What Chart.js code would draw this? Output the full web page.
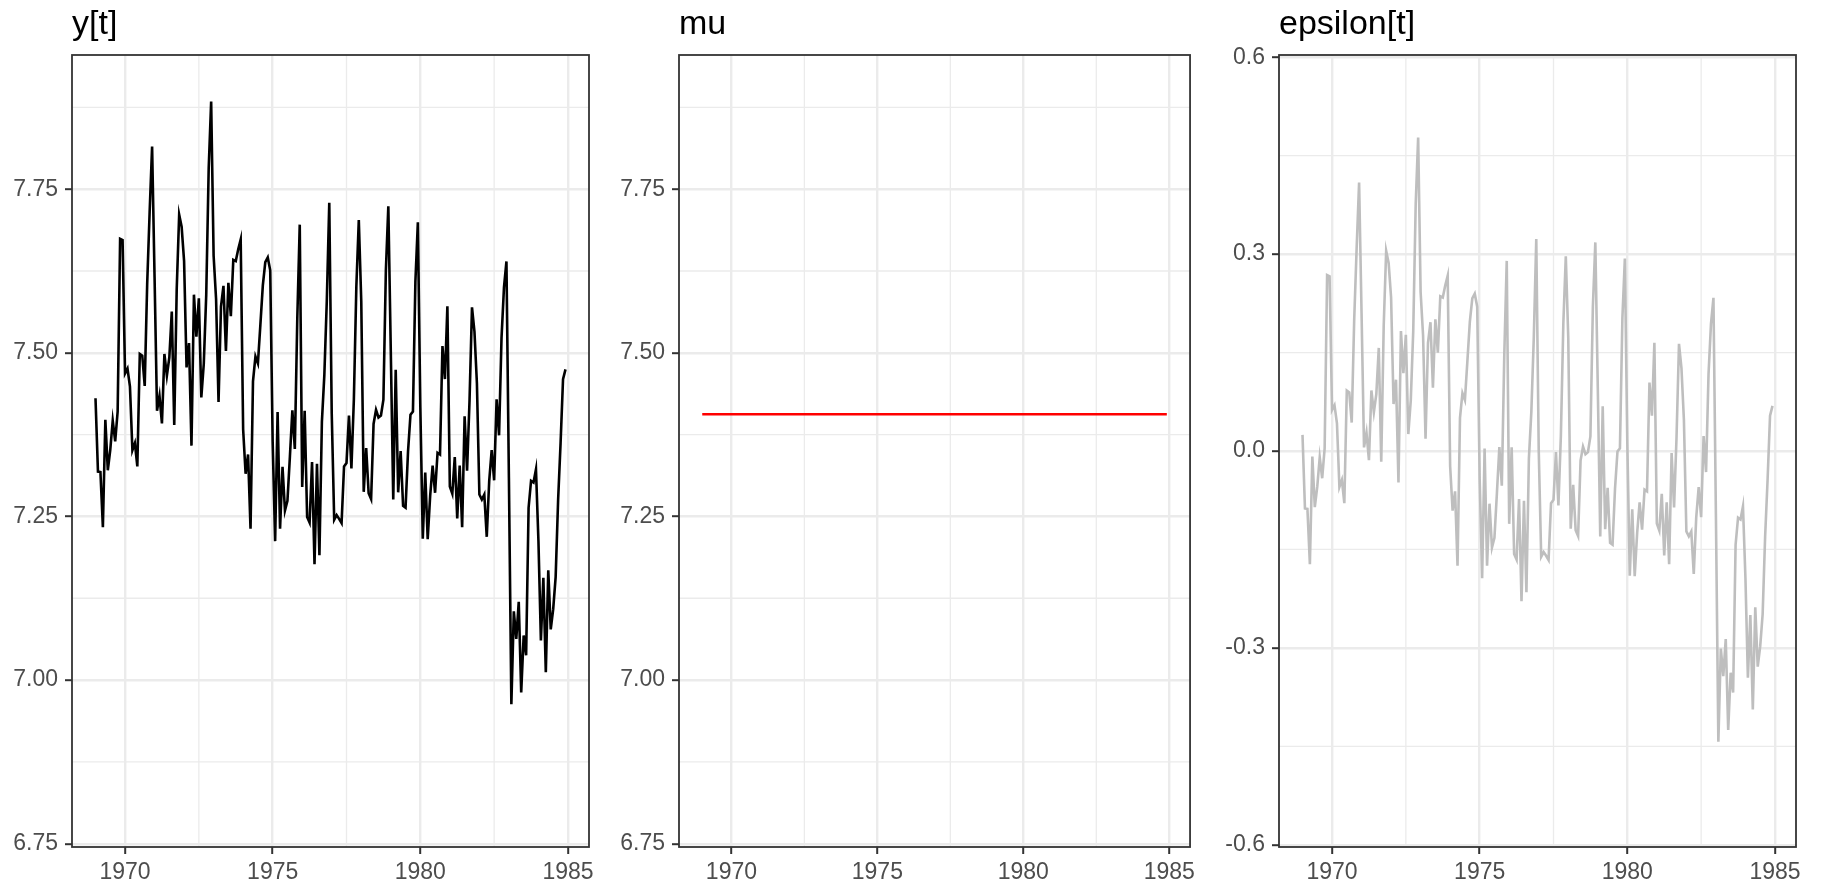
<!DOCTYPE html>
<html>
<head>
<meta charset="utf-8">
<title>y[t], mu, epsilon[t]</title>
<script src="https://cdn.jsdelivr.net/npm/chart.js@4.4.1/dist/chart.umd.min.js"></script>
<style>
  html, body { margin: 0; padding: 0; background: #ffffff; }
  #wrap { position: relative; width: 1821px; height: 887px; overflow: hidden; }
  canvas { position: absolute; top: 0; }
</style>
</head>
<body>
<div id="wrap">
  <canvas id="c1" style="left:0px"></canvas>
  <canvas id="c2" style="left:600px"></canvas>
  <canvas id="c3" style="left:1200px"></canvas>
</div>
<script>
// Monthly series, January 1969 to December 1984 (log scale)
const startYear = 1969;
const monthsPerYear = 12;

const yt = [
  7.4307, 7.3185, 7.3179, 7.2335, 7.3976, 7.3205, 7.3518, 7.3963, 7.3646, 7.4103, 7.6742, 7.6723,
  7.4685, 7.4759, 7.4483, 7.3512, 7.3620, 7.3265, 7.4983, 7.4955, 7.4495, 7.6049, 7.7151, 7.8152,
  7.6158, 7.4116, 7.4343, 7.3920, 7.4983, 7.4651, 7.4928, 7.5632, 7.3896, 7.5969, 7.7111, 7.6926,
  7.6401, 7.4776, 7.5148, 7.3582, 7.5888, 7.5246, 7.5833, 7.4319, 7.4832, 7.5888, 7.7820, 7.8838,
  7.6483, 7.5822, 7.4248, 7.5710, 7.6024, 7.5027, 7.6069, 7.5559, 7.6420, 7.6401, 7.6582, 7.6732,
  7.3828, 7.3152, 7.3447, 7.2313, 7.4565, 7.4944, 7.4838, 7.5428, 7.6029, 7.6387, 7.6459, 7.6261,
  7.3633, 7.2123, 7.4097, 7.2313, 7.3258, 7.2591, 7.2738, 7.3415, 7.4122, 7.3531, 7.5522, 7.6958,
  7.2951, 7.4116, 7.2492, 7.2407, 7.3330, 7.1770, 7.3304, 7.1907, 7.3945, 7.4662, 7.5797, 7.7293,
  7.4073, 7.2449, 7.2521, 7.2464, 7.2399, 7.3265, 7.3317, 7.4043, 7.3232, 7.4295, 7.6009, 7.7030,
  7.5787, 7.2876, 7.3544, 7.2855, 7.2766, 7.3914, 7.4128, 7.4012, 7.4043, 7.4283, 7.6256, 7.7240,
  7.5027, 7.2759, 7.4742, 7.2869, 7.3499, 7.2661, 7.2633, 7.3486, 7.4055, 7.4103, 7.6089, 7.6994,
  7.4176, 7.2160, 7.3172, 7.2152, 7.2814, 7.3278, 7.2862, 7.3473, 7.3447, 7.5104, 7.4599, 7.5710,
  7.2957, 7.2848, 7.3408, 7.2471, 7.3278, 7.2335, 7.4031, 7.3199, 7.4271, 7.5694, 7.5326, 7.4536,
  7.2835, 7.2759, 7.2835, 7.2189, 7.3045, 7.3512, 7.3052, 7.4289, 7.3740, 7.5229, 7.5999, 7.6396,
  7.3092, 6.9632, 7.1050, 7.0631, 7.1196, 6.9810, 7.0682, 7.0379, 7.2633, 7.3045, 7.3018, 7.3219,
  7.2130, 7.0605, 7.1562, 7.0121, 7.1678, 7.0775, 7.1083, 7.1577, 7.2752, 7.3620, 7.4599, 7.4748
];

// Deterministic level
const muLevel = 7.4061;

const epsilon = [
   0.0246, -0.0876, -0.0882, -0.1726, -0.0085, -0.0856, -0.0543, -0.0098, -0.0415,  0.0042,  0.2681,  0.2662,
   0.0624,  0.0698,  0.0422, -0.0549, -0.0441, -0.0796,  0.0922,  0.0894,  0.0434,  0.1988,  0.3090,  0.4091,
   0.2097,  0.0055,  0.0282, -0.0141,  0.0922,  0.0590,  0.0867,  0.1571, -0.0165,  0.1908,  0.3050,  0.2865,
   0.2340,  0.0715,  0.1087, -0.0479,  0.1827,  0.1185,  0.1772,  0.0258,  0.0771,  0.1827,  0.3759,  0.4777,
   0.2422,  0.1761,  0.0187,  0.1649,  0.1963,  0.0966,  0.2008,  0.1498,  0.2359,  0.2340,  0.2521,  0.2671,
  -0.0233, -0.0909, -0.0614, -0.1748,  0.0504,  0.0883,  0.0777,  0.1367,  0.1968,  0.2326,  0.2398,  0.2200,
  -0.0428, -0.1938,  0.0036, -0.1748, -0.0803, -0.1470, -0.1323, -0.0646,  0.0061, -0.0530,  0.1461,  0.2897,
  -0.1110,  0.0055, -0.1569, -0.1654, -0.0731, -0.2291, -0.0757, -0.2154, -0.0116,  0.0601,  0.1736,  0.3232,
   0.0012, -0.1612, -0.1540, -0.1597, -0.1662, -0.0796, -0.0744, -0.0018, -0.0829,  0.0234,  0.1948,  0.2969,
   0.1726, -0.1185, -0.0517, -0.1206, -0.1295, -0.0147,  0.0067, -0.0049, -0.0018,  0.0222,  0.2195,  0.3179,
   0.0966, -0.1302,  0.0681, -0.1192, -0.0562, -0.1400, -0.1428, -0.0575, -0.0006,  0.0042,  0.2028,  0.2933,
   0.0115, -0.1901, -0.0889, -0.1909, -0.1247, -0.0783, -0.1199, -0.0588, -0.0614,  0.1043,  0.0538,  0.1649,
  -0.1104, -0.1213, -0.0653, -0.1590, -0.0783, -0.1726, -0.0030, -0.0862,  0.0210,  0.1633,  0.1265,  0.0475,
  -0.1226, -0.1302, -0.1226, -0.1872, -0.1016, -0.0549, -0.1009,  0.0228, -0.0321,  0.1168,  0.1938,  0.2335,
  -0.0969, -0.4429, -0.3011, -0.3430, -0.2865, -0.4251, -0.3379, -0.3682, -0.1428, -0.1016, -0.1043, -0.0842,
  -0.1931, -0.3456, -0.2499, -0.3940, -0.2383, -0.3286, -0.2978, -0.2484, -0.1309, -0.0441,  0.0538,  0.0687
];

// Axis breaks and labels
const xTicks = [1970, 1975, 1980, 1985];
const xTickLabels = ['1970', '1975', '1980', '1985'];
const xMinor = [1972.5, 1977.5, 1982.5];

const levelTicks = [6.75, 7.00, 7.25, 7.50, 7.75];
const levelTickLabels = ['6.75', '7.00', '7.25', '7.50', '7.75'];
const levelMinor = [6.875, 7.125, 7.375, 7.625, 7.875];

const epsTicks = [-0.6, -0.3, 0, 0.3, 0.6];
const epsTickLabels = ['-0.6', '-0.3', '0.0', '0.3', '0.6'];
const epsMinor = [-0.45, -0.15, 0.15, 0.45];

const panelTitles = ['y[t]', 'mu', 'epsilon[t]'];

// Time index for each monthly observation
const time = yt.map((_, i) => startYear + i / monthsPerYear);

const FONT = '"Liberation Sans", Arial, sans-serif';
const GRID = '#EBEBEB';
const DARK = '#333333';

// Panel frame: minor grid underneath, border box and title on top
const panelDecor = {
  id: 'panelDecor',
  beforeDraw(chart, args, opts) {
    const { ctx, chartArea: a, scales } = chart;
    ctx.save();
    ctx.strokeStyle = GRID;
    ctx.lineWidth = 1.3;
    ctx.beginPath();
    opts.xMinor.forEach(v => {
      const px = scales.x.getPixelForValue(v);
      ctx.moveTo(px, a.top); ctx.lineTo(px, a.bottom);
    });
    opts.yMinor.forEach(v => {
      const py = scales.y.getPixelForValue(v);
      ctx.moveTo(a.left, py); ctx.lineTo(a.right, py);
    });
    ctx.stroke();
    ctx.restore();
  },
  afterDraw(chart, args, opts) {
    const { ctx, chartArea: a } = chart;
    ctx.save();
    ctx.strokeStyle = DARK;
    ctx.lineWidth = 1.8;
    ctx.strokeRect(a.left, a.top, a.right - a.left, a.bottom - a.top);
    ctx.fillStyle = '#000000';
    ctx.font = '34px ' + FONT;
    ctx.textBaseline = 'alphabetic';
    ctx.textAlign = 'left';
    ctx.fillText(opts.title, a.left, 34);
    ctx.restore();
  }
};

function makePanel(id, cfg) {
  const canvas = document.getElementById(id);
  canvas.width = cfg.width;
  canvas.height = 887;
  canvas.style.width = cfg.width + 'px';
  canvas.style.height = '887px';
  return new Chart(canvas, {
    type: 'line',
    data: {
      datasets: [{
        data: cfg.values.map((v, i) => ({ x: time[i], y: v })),
        borderColor: cfg.color,
        borderWidth: 2.6,
        pointRadius: 0,
        tension: 0,
        fill: false
      }]
    },
    options: {
      responsive: false,
      animation: false,
      events: [],
      layout: { padding: { top: 55, right: cfg.padRight, bottom: 0, left: 0 } },
      plugins: {
        legend: { display: false },
        tooltip: { enabled: false },
        title: { display: false },
        panelDecor: { title: cfg.title, xMinor: xMinor, yMinor: cfg.yMinor }
      },
      scales: {
        x: {
          type: 'linear',
          min: 1968.204,
          max: 1985.7125,
          afterBuildTicks: s => { s.ticks = xTicks.map(v => ({ value: v })); },
          afterFit: s => { s.height = 40; },
          ticks: {
            color: '#4D4D4D',
            font: { family: FONT, size: 23 },
            padding: 5,
            maxRotation: 0,
            autoSkip: false,
            callback: (v, i) => xTickLabels[i]
          },
          grid: {
            color: GRID, lineWidth: 2.4,
            drawTicks: true, tickLength: 7, tickColor: DARK, tickWidth: 2
          },
          border: { display: false }
        },
        y: {
          type: 'linear',
          min: cfg.yMin,
          max: cfg.yMax,
          afterBuildTicks: s => { s.ticks = cfg.yTicks.map(v => ({ value: v })); },
          afterFit: s => { s.width = cfg.axisWidth; },
          ticks: {
            color: '#4D4D4D',
            font: { family: FONT, size: 23 },
            padding: 7,
            autoSkip: false,
            callback: (v, i) => cfg.yTickLabels[i]
          },
          grid: {
            color: GRID, lineWidth: 2.4,
            drawTicks: true, tickLength: 7, tickColor: DARK, tickWidth: 2
          },
          border: { display: false }
        }
      }
    },
    plugins: [panelDecor]
  });
}

makePanel('c1', {
  width: 600, axisWidth: 72, padRight: 11,
  values: yt, color: '#000000', title: panelTitles[0],
  yMin: 6.745, yMax: 7.955, yTicks: levelTicks, yTickLabels: levelTickLabels, yMinor: levelMinor
});

makePanel('c2', {
  width: 600, axisWidth: 79, padRight: 4,
  values: yt.map(() => muLevel), color: '#FF0000', title: panelTitles[1],
  yMin: 6.745, yMax: 7.955, yTicks: levelTicks, yTickLabels: levelTickLabels, yMinor: levelMinor
});

makePanel('c3', {
  width: 621, axisWidth: 79, padRight: 25,
  values: epsilon, color: '#BEBEBE', title: panelTitles[2],
  yMin: -0.6035, yMax: 0.6035, yTicks: epsTicks, yTickLabels: epsTickLabels, yMinor: epsMinor
});
</script>
</body>
</html>
